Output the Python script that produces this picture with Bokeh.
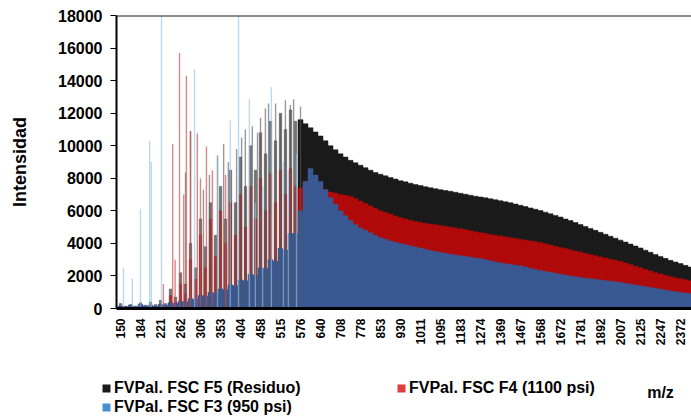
import numpy as np
from bokeh.plotting import figure
from bokeh.layouts import column
from bokeh.models import (Range1d, FixedTicker, Span, Legend, LegendItem, Label,
                          ColumnDataSource)
from bokeh.embed import file_html
from bokeh.resources import INLINE

# ---------------- data ----------------
tick_mz = [150, 184, 221, 262, 306, 353, 404, 458, 515, 576, 640, 708, 778, 853,
           930, 1011, 1095, 1183, 1274, 1369, 1467, 1568, 1672, 1781, 1892, 2007,
           2125, 2247, 2372]
bars_per_label = 4  # intensity samples read per labelled m/z step

f5_residuo = [
    300, 150, 250, 150, 350, 200, 400, 250, 500, 300,
    1200, 700, 2200, 1500, 4000, 2500, 5500, 3800, 6500, 4500,
    7500, 5500, 8500, 6500, 9300, 7500, 10000, 8500, 10800, 9500,
    11500, 10300, 12000, 11000, 12200, 11500, 11600, 11350, 11100, 10850,
    10600, 10300, 10000, 9750, 9500, 9300, 9100, 8950, 8800, 8650,
    8500, 8350, 8250, 8150, 8050, 7950, 7850, 7780, 7700, 7620,
    7550, 7480, 7420, 7360, 7300, 7250, 7200, 7140, 7080, 7020,
    6960, 6900, 6850, 6800, 6740, 6680, 6620, 6560, 6500, 6420,
    6340, 6260, 6180, 6100, 6020, 5920, 5820, 5720, 5620, 5500,
    5400, 5280, 5160, 5040, 4920, 4800, 4680, 4560, 4440, 4320,
    4200, 4080, 3960, 3840, 3720, 3580, 3450, 3320, 3200, 3080,
    2960, 2860, 2760, 2650, 2550]

f4_1100 = [
    100, 80, 120, 80, 150, 100, 200, 120, 250, 150,
    800, 400, 1500, 900, 3000, 1800, 4500, 2500, 5500, 3200,
    6000, 4000, 6500, 4500, 7000, 5000, 7500, 5500, 8000, 6000,
    8300, 6500, 8500, 7000, 8600, 7500, 7400, 7800, 8000, 7900,
    7600, 7300, 7150, 7100, 7000, 6950, 6900, 6750, 6600, 6450,
    6300, 6150, 6000, 5900, 5800, 5680, 5580, 5500, 5420, 5350,
    5280, 5230, 5180, 5140, 5100, 5050, 5000, 4950, 4900, 4840,
    4780, 4720, 4660, 4600, 4550, 4500, 4450, 4400, 4350, 4300,
    4250, 4200, 4150, 4100, 4050, 3970, 3900, 3820, 3750, 3680,
    3600, 3530, 3460, 3380, 3310, 3240, 3170, 3100, 3030, 2960,
    2900, 2800, 2700, 2600, 2500, 2400, 2300, 2200, 2120, 2040,
    1960, 1890, 1820, 1760, 1700]

f3_950 = [
    150, 100, 200, 100, 250, 150, 200, 150, 250, 200,
    350, 300, 450, 400, 600, 550, 800, 750, 1000, 950,
    1200, 1150, 1450, 1400, 1750, 1700, 2100, 2050, 2500, 2450,
    3000, 2900, 3700, 3600, 4600, 4600, 6000, 7800, 8600, 8200,
    7800, 7300, 6800, 6400, 6000, 5700, 5400, 5150, 4950, 4800,
    4650, 4500, 4350, 4250, 4150, 4070, 3990, 3920, 3850, 3780,
    3710, 3640, 3570, 3500, 3440, 3390, 3340, 3290, 3240, 3200,
    3150, 3110, 3070, 3000, 2930, 2860, 2800, 2750, 2710, 2660,
    2620, 2550, 2480, 2400, 2330, 2280, 2220, 2170, 2110, 2060,
    2000, 1950, 1900, 1860, 1820, 1790, 1750, 1710, 1680, 1640,
    1600, 1550, 1490, 1440, 1390, 1340, 1290, 1240, 1190, 1130,
    1080, 1030, 980, 950, 920]

# isolated peaks (m/z, intensity)
f5_peak_mz = [273, 284, 313, 327, 346, 361, 373, 394, 407, 417, 436, 450, 458,
              472, 481, 501, 515, 530, 545, 555, 576]
f5_peak_int = [8350, 10900, 7300, 8200, 9400, 10100, 9000, 9800, 10500, 11000, 11200,
               10800, 11700, 12300, 12600, 12600, 11900, 12800, 12500, 12850, 12400]
f4_peak_mz = [227, 246, 251, 260, 269, 275, 284, 299, 306, 320, 334, 366]
f4_peak_int = [1500, 10100, 3000, 15700, 7000, 14300, 10900, 10750, 8000, 9950, 8500, 8200]
f3_peak_mz = [155, 170, 184, 201, 204, 223, 293, 346, 378, 399, 428, 444, 464,
              489, 524, 539, 564]
f3_peak_int = [2500, 1850, 6100, 10300, 9000, 18000, 14700, 9400, 11550, 18000, 12850,
               6500, 7500, 13600, 9000, 8500, 9500]

series_names = ["FVPal. FSC F5 (Residuo)", "FVPal. FSC F4 (1100 psi)", "FVPal. FSC F3 (950 psi)"]

# ---------------- main figure ----------------
FONT = "Liberation Sans"
p = figure(width=691, height=360, x_range=Range1d(-0.2, 28.55), y_range=Range1d(0, 18000),
           min_border_left=116, min_border_right=0, min_border_top=15, min_border_bottom=52,
           output_backend="svg", toolbar_location=None)
p.outline_line_color = None
p.xgrid.visible = False
p.ygrid.visible = False
p.frame_align = False

idx = np.arange(len(f5_residuo)) / bars_per_label
w = 1.0 / bars_per_label
spiky = idx < 9.0          # the resolved-peak region left of m/z 576

def mz_to_idx(m):
    return np.interp(m, tick_mz, np.arange(len(tick_mz)))

body_cols = ["#1b1b1b", "#b00a0a", "#3a5893"]
spiky_alpha = [0.6, 0.55, 1.0]
for k, (vals, col) in enumerate(zip([f5_residuo, f4_1100, f3_950], body_cols)):
    if k < 2:
        widths = np.where(spiky, 0.5 * w, w)
    else:
        widths = np.full(len(idx), w)
    alphas = np.where(spiky, spiky_alpha[k], 1.0)
    src = ColumnDataSource(dict(x=idx, top=vals, width=widths, alpha=alphas))
    p.vbar(x="x", top="top", width="width", source=src, fill_color=col, fill_alpha="alpha",
           line_color=col, line_alpha="alpha", line_width=0.5)

peak_cols = ["#555555", "#c84848", "#8fc0ea"]
peak_alpha = [0.6, 0.65, 0.6]
for mzs, ints, col, a in zip([f5_peak_mz, f4_peak_mz, f3_peak_mz],
                             [f5_peak_int, f4_peak_int, f3_peak_int], peak_cols, peak_alpha):
    p.vbar(x=mz_to_idx(mzs), top=ints, width=0.07, fill_color=col, line_color=None, fill_alpha=a)

p.add_layout(Span(location=18000, dimension="width", line_color="#222222", line_width=2))

# axes
p.yaxis.ticker = FixedTicker(ticks=list(range(0, 18001, 2000)))
p.yaxis.axis_label = "Intensidad"
p.yaxis.axis_label_text_font = FONT
p.yaxis.axis_label_text_font_style = "bold"
p.yaxis.axis_label_text_font_size = "18px"
p.yaxis.axis_label_text_color = "black"
p.yaxis.axis_label_standoff = 25
p.yaxis.major_label_text_font = FONT
p.yaxis.major_label_text_font_style = "bold"
p.yaxis.major_label_text_font_size = "16px"
p.yaxis.major_label_text_color = "black"
p.yaxis.major_label_standoff = 8
p.yaxis.major_tick_out = 6
p.yaxis.major_tick_in = 0
p.yaxis.minor_tick_out = 0
p.yaxis.minor_tick_in = 0
p.yaxis.axis_line_width = 2
p.yaxis.major_tick_line_width = 1

p.xaxis.ticker = FixedTicker(ticks=list(range(len(tick_mz))))
p.xaxis.major_label_overrides = {i: str(m) for i, m in enumerate(tick_mz)}
p.xaxis.major_label_orientation = np.pi / 2
p.xaxis.major_label_text_font = FONT
p.xaxis.major_label_text_font_style = "bold"
p.xaxis.major_label_text_font_size = "12px"
p.xaxis.major_label_text_color = "black"
p.xaxis.major_label_standoff = 10
p.xaxis.major_tick_out = 0
p.xaxis.major_tick_in = 0
p.xaxis.minor_tick_out = 0
p.xaxis.minor_tick_in = 0
p.xaxis.axis_line_width = 3

# ---------------- legend strip ----------------
lf = figure(width=691, height=59, x_range=Range1d(0, 691), y_range=Range1d(0, 59),
            min_border=0, min_border_left=0, min_border_right=0, min_border_top=0,
            min_border_bottom=0, x_axis_type=None, y_axis_type=None,
            output_backend="svg", toolbar_location=None)
lf.outline_line_color = None
lf.xgrid.visible = False
lf.ygrid.visible = False
lf.frame_align = False

leg_cols = ["#1a1a1a", "#e23b3b", "#4a8fd2"]
# zero-area quads: only their legend swatches show
dummies = [lf.quad(left=[0], right=[0], top=[0], bottom=[0], fill_color=c, line_color=None)
           for c in leg_cols]

def make_legend(items, loc):
    lg = Legend(items=items, location=loc, orientation="vertical",
                label_text_font=FONT, label_text_font_style="bold",
                label_text_font_size="16px", label_text_color="black",
                glyph_width=10, glyph_height=10,
                label_standoff=3, spacing=0, padding=0, margin=0,
                border_line_color=None, background_fill_alpha=0, label_height=19)
    lf.add_layout(lg)

make_legend([LegendItem(label=series_names[0], renderers=[dummies[0]]),
             LegendItem(label=series_names[2], renderers=[dummies[2]])], (101, 3))
make_legend([LegendItem(label=series_names[1], renderers=[dummies[1]])], (396, 22))

lf.add_layout(Label(x=660, y=27, text="m/z", text_font=FONT, text_font_style="bold",
                    text_font_size="16px", text_baseline="middle", text_align="center",
                    text_color="black"))

layout = column(p, lf, spacing=0)
open("out.html", "w").write(file_html(layout, INLINE))
